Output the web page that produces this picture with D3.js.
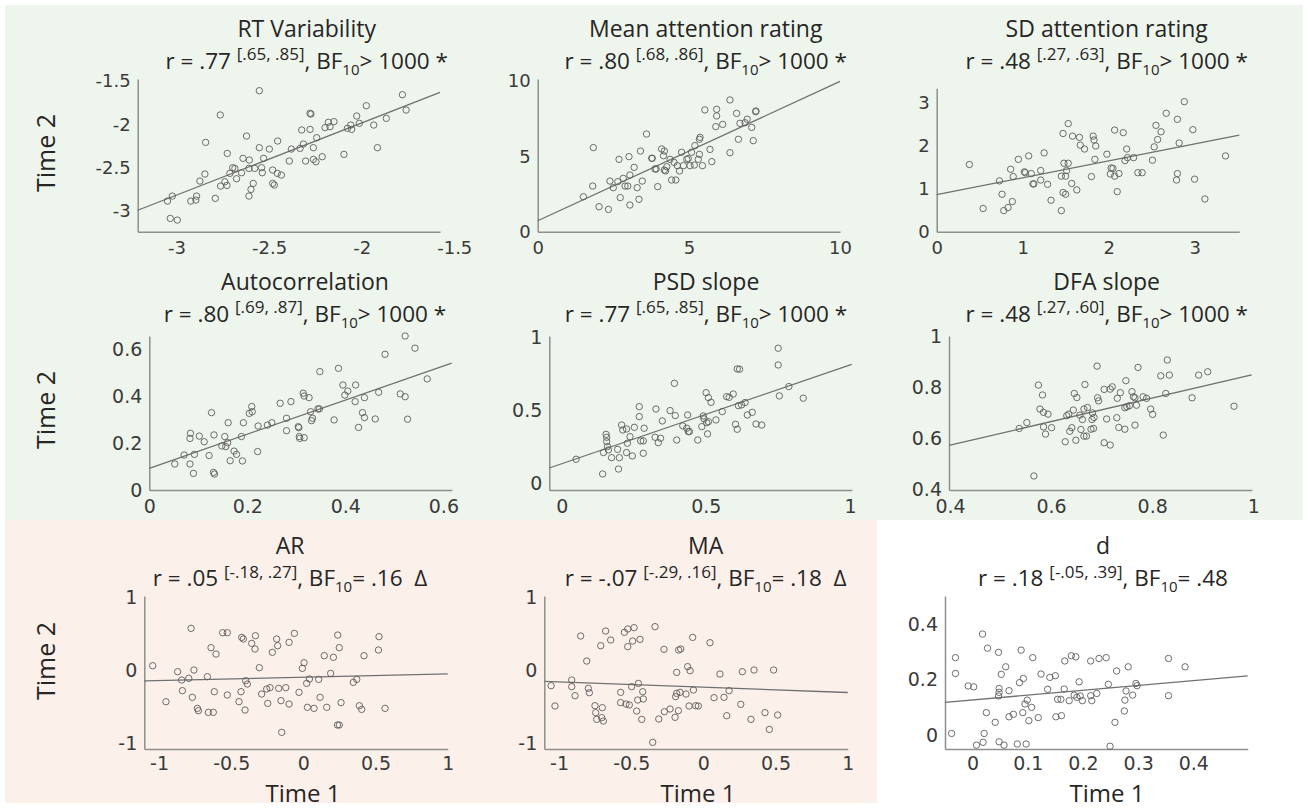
<!DOCTYPE html>
<html>
<head>
<meta charset="utf-8">
<script src="https://cdn.jsdelivr.net/npm/d3@7"></script>
<style>
  html, body { margin: 0; padding: 0; background: #ffffff; }
  svg { display: block; }
  text { white-space: pre; }
</style>
</head>
<body>
<svg id="fig" width="1308" height="808"></svg>
<script>
// ---- Test-retest data: Time 1 (x) and Time 2 (y) per measure ----
const rtVarT1 = [-3.049,-3.023,-3.034,-2.996,-2.923,-2.896,-2.892,-2.874,-2.847,-2.843,-2.791,-2.764,-2.762,-2.739,-2.728,-2.726,-2.712,-2.697,-2.685,-2.676,-2.649,-2.641,-2.622,-2.607,-2.609,-2.598,-2.586,-2.609,-2.578,-2.553,-2.553,-2.541,-2.537,-2.530,-2.499,-2.481,-2.481,-2.472,-2.454,-2.456,-2.434,-2.391,-2.380,-2.333,-2.324,-2.315,-2.303,-2.279,-2.274,-2.279,-2.261,-2.261,-2.247,-2.243,-2.213,-2.198,-2.180,-2.171,-2.150,-2.096,-2.077,-2.059,-2.054,-2.027,-2.013,-1.975,-1.935,-1.915,-1.867,-1.780,-1.760];
const rtVarT2 = [-2.885,-2.827,-3.085,-3.104,-2.885,-2.873,-2.827,-2.654,-2.573,-2.208,-2.854,-1.892,-2.712,-2.662,-2.704,-2.335,-2.565,-2.500,-2.508,-2.627,-2.558,-2.392,-2.135,-2.412,-2.827,-2.750,-2.681,-2.508,-2.508,-1.612,-2.269,-2.500,-2.558,-2.392,-2.285,-2.527,-2.681,-2.700,-2.192,-2.565,-2.585,-2.423,-2.285,-2.277,-2.065,-2.227,-2.423,-1.873,-1.881,-2.058,-2.269,-2.404,-2.431,-2.154,-2.373,-2.038,-1.977,-2.027,-1.969,-2.346,-2.046,-2.008,-2.058,-1.904,-1.988,-1.785,-2.008,-2.269,-1.931,-1.658,-1.835];

const meanAttT1 = [1.51,1.82,1.84,2.03,2.34,2.39,2.50,2.65,2.69,2.73,2.83,2.89,2.98,3.02,3.05,3.05,3.19,3.29,3.35,3.40,3.46,3.60,3.77,3.79,3.88,3.92,3.97,4.10,4.16,4.19,4.19,4.23,4.27,4.38,4.43,4.51,4.57,4.62,4.69,4.76,4.82,4.93,4.98,5.04,5.09,5.18,5.20,5.31,5.35,5.35,5.37,5.45,5.53,5.70,5.76,5.89,5.92,5.92,6.12,6.36,6.36,6.58,6.64,6.69,6.86,6.93,7.08,7.13,7.21,7.22];
const meanAttT2 = [2.32,3.03,5.58,1.66,1.48,3.36,2.92,3.32,4.80,2.26,3.54,3.03,3.03,4.98,1.77,3.76,4.27,2.92,2.15,5.35,3.36,6.48,4.87,4.87,4.16,4.16,2.99,5.49,5.04,5.35,4.09,4.03,4.31,4.80,3.43,4.60,3.43,4.38,4.03,5.27,4.38,4.80,4.85,4.38,5.27,4.42,5.71,4.80,5.13,6.13,6.26,4.38,8.08,5.46,4.65,6.97,8.12,7.68,7.12,8.74,5.24,7.85,6.13,7.19,7.23,7.46,6.92,6.04,7.96,8.01];

const sdAttT1 = [0.38,0.54,0.73,0.76,0.78,0.83,0.86,0.88,0.89,0.95,1.02,1.03,1.07,1.10,1.12,1.13,1.21,1.21,1.25,1.29,1.33,1.45,1.45,1.47,1.47,1.48,1.50,1.50,1.51,1.53,1.53,1.57,1.58,1.63,1.66,1.67,1.72,1.80,1.82,1.83,1.84,1.85,1.98,2.02,2.03,2.05,2.07,2.07,2.10,2.12,2.17,2.19,2.21,2.22,2.29,2.34,2.39,2.51,2.53,2.55,2.57,2.61,2.67,2.80,2.80,2.79,2.82,2.88,2.98,3.00,3.12,3.36];
const sdAttT2 = [1.56,0.54,1.18,0.87,0.49,0.56,1.45,0.70,1.28,1.68,1.39,1.37,1.76,1.35,1.11,1.11,1.42,1.20,1.83,1.10,0.73,1.29,0.49,2.28,0.91,1.59,1.29,0.87,1.42,1.59,2.51,1.12,2.22,0.97,2.19,2.01,1.92,1.28,2.22,2.13,1.68,1.99,1.80,1.34,1.48,1.47,2.36,1.29,0.93,1.35,2.30,1.65,1.92,1.72,1.72,1.37,1.37,1.66,1.97,2.47,2.14,2.32,2.75,2.61,1.35,1.20,2.06,3.02,2.37,1.22,0.76,1.76];

const acT1 = [0.052,0.071,0.083,0.084,0.083,0.090,0.092,0.102,0.112,0.122,0.127,0.131,0.133,0.132,0.148,0.154,0.156,0.160,0.161,0.165,0.173,0.178,0.188,0.190,0.192,0.204,0.209,0.210,0.221,0.222,0.241,0.250,0.267,0.280,0.280,0.289,0.304,0.305,0.306,0.307,0.316,0.314,0.316,0.326,0.329,0.331,0.333,0.344,0.347,0.348,0.377,0.386,0.395,0.399,0.405,0.421,0.420,0.427,0.435,0.439,0.439,0.461,0.468,0.481,0.512,0.522,0.522,0.527,0.542,0.567];
const acT2 = [0.111,0.149,0.220,0.242,0.111,0.071,0.152,0.230,0.206,0.147,0.330,0.075,0.068,0.235,0.188,0.228,0.185,0.202,0.287,0.125,0.166,0.152,0.228,0.124,0.287,0.327,0.356,0.334,0.164,0.273,0.277,0.287,0.370,0.306,0.253,0.377,0.270,0.266,0.228,0.220,0.223,0.413,0.401,0.394,0.334,0.296,0.306,0.346,0.346,0.505,0.299,0.519,0.448,0.405,0.422,0.448,0.377,0.267,0.330,0.309,0.394,0.303,0.417,0.579,0.410,0.398,0.657,0.302,0.605,0.474];

const psdT1 = [0.050,0.142,0.145,0.154,0.156,0.156,0.159,0.162,0.173,0.194,0.197,0.200,0.208,0.212,0.225,0.225,0.228,0.237,0.245,0.252,0.269,0.269,0.274,0.283,0.286,0.283,0.324,0.327,0.335,0.343,0.349,0.376,0.391,0.394,0.399,0.420,0.434,0.437,0.439,0.443,0.472,0.486,0.491,0.494,0.501,0.503,0.506,0.509,0.509,0.518,0.535,0.557,0.572,0.581,0.595,0.603,0.609,0.617,0.609,0.613,0.624,0.636,0.644,0.661,0.674,0.694,0.751,0.751,0.755,0.788,0.838];
const psdT2 = [0.165,0.064,0.211,0.336,0.316,0.286,0.252,0.229,0.176,0.233,0.098,0.176,0.400,0.366,0.211,0.373,0.275,0.320,0.188,0.384,0.526,0.458,0.291,0.291,0.378,0.206,0.316,0.510,0.279,0.309,0.428,0.499,0.686,0.465,0.297,0.394,0.378,0.469,0.355,0.355,0.297,0.389,0.462,0.442,0.622,0.416,0.339,0.588,0.423,0.556,0.435,0.492,0.595,0.590,0.613,0.405,0.785,0.783,0.371,0.533,0.538,0.554,0.469,0.487,0.407,0.400,0.927,0.812,0.600,0.664,0.584];

const dfaT1 = [0.537,0.552,0.566,0.575,0.578,0.583,0.585,0.585,0.589,0.594,0.601,0.628,0.631,0.635,0.637,0.641,0.644,0.646,0.651,0.649,0.657,0.659,0.662,0.665,0.665,0.667,0.670,0.672,0.679,0.681,0.682,0.684,0.685,0.691,0.692,0.694,0.705,0.705,0.710,0.717,0.717,0.721,0.730,0.731,0.734,0.737,0.746,0.746,0.748,0.750,0.755,0.760,0.763,0.766,0.766,0.769,0.772,0.782,0.789,0.797,0.801,0.817,0.822,0.827,0.830,0.834,0.879,0.892,0.910,0.962];
const dfaT2 = [0.638,0.661,0.452,0.808,0.714,0.769,0.701,0.644,0.616,0.694,0.641,0.586,0.688,0.694,0.627,0.641,0.710,0.775,0.759,0.592,0.690,0.634,0.673,0.608,0.714,0.810,0.608,0.720,0.635,0.673,0.699,0.638,0.681,0.882,0.758,0.746,0.582,0.791,0.675,0.573,0.792,0.801,0.680,0.756,0.642,0.778,0.635,0.719,0.825,0.723,0.727,0.782,0.762,0.651,0.758,0.729,0.877,0.762,0.756,0.714,0.693,0.844,0.612,0.775,0.906,0.847,0.758,0.847,0.860,0.725];

const arT1 = [-1.044,-0.952,-0.871,-0.843,-0.838,-0.794,-0.778,-0.769,-0.758,-0.734,-0.727,-0.665,-0.658,-0.640,-0.624,-0.617,-0.605,-0.559,-0.527,-0.527,-0.446,-0.432,-0.427,-0.416,-0.404,-0.400,-0.388,-0.358,-0.335,-0.332,-0.305,-0.289,-0.254,-0.247,-0.231,-0.215,-0.185,-0.178,-0.171,-0.155,-0.150,-0.122,-0.099,-0.099,-0.062,-0.030,-0.007,0.005,0.023,0.028,0.042,0.074,0.106,0.116,0.145,0.162,0.189,0.208,0.238,0.236,0.249,0.249,0.261,0.346,0.370,0.388,0.404,0.420,0.520,0.524,0.566];
const arT2 = [0.059,-0.434,-0.023,-0.137,-0.283,-0.114,0.571,-0.374,0.000,-0.525,-0.557,-0.091,-0.580,0.306,-0.580,-0.297,0.219,0.511,0.511,-0.342,-0.434,-0.297,0.447,0.425,-0.548,-0.146,-0.192,0.365,0.288,0.470,0.032,-0.329,-0.260,-0.457,-0.242,0.242,0.425,0.333,-0.251,-0.420,-0.854,-0.242,-0.466,0.379,0.502,-0.306,0.023,0.100,-0.183,-0.511,-0.123,-0.525,-0.128,-0.374,0.196,-0.511,-0.046,0.174,0.479,-0.753,-0.753,0.306,-0.447,-0.169,-0.128,-0.489,-0.539,0.196,0.274,0.457,-0.525];

const maT1 = [-1.055,-1.028,-0.912,-0.912,-0.889,-0.850,-0.808,-0.797,-0.790,-0.751,-0.746,-0.739,-0.711,-0.700,-0.704,-0.693,-0.677,-0.642,-0.573,-0.573,-0.547,-0.536,-0.524,-0.524,-0.513,-0.497,-0.490,-0.480,-0.462,-0.455,-0.450,-0.439,-0.427,-0.420,-0.416,-0.351,-0.335,-0.309,-0.273,-0.270,-0.231,-0.196,-0.192,-0.185,-0.185,-0.173,-0.171,-0.157,-0.162,-0.120,-0.109,-0.099,-0.092,-0.074,-0.069,-0.053,-0.035,0.046,0.074,0.115,0.143,0.162,0.178,0.259,0.270,0.330,0.351,0.427,0.457,0.487,0.515];
const maT2 = [-0.215,-0.493,-0.137,-0.228,-0.352,0.466,0.123,-0.251,-0.311,-0.489,-0.584,-0.676,0.333,-0.516,-0.653,-0.699,0.534,0.411,-0.306,-0.447,0.516,-0.466,0.320,0.562,-0.479,-0.228,0.397,0.580,-0.562,-0.411,-0.183,0.420,-0.676,-0.297,-0.397,-0.991,0.594,-0.671,0.283,-0.571,-0.534,-0.648,-0.365,-0.032,-0.320,-0.557,0.274,0.288,-0.306,-0.329,0.046,-0.493,-0.009,0.447,-0.274,-0.489,-0.493,0.374,-0.379,-0.055,-0.374,-0.626,-0.283,-0.470,-0.023,-0.676,0.000,-0.584,-0.813,0.000,-0.616];

const dT1 = [-0.038,-0.031,-0.031,-0.008,0.002,0.007,0.018,0.021,0.019,0.027,0.025,0.041,0.047,0.047,0.048,0.048,0.048,0.052,0.057,0.060,0.066,0.066,0.074,0.081,0.085,0.088,0.091,0.092,0.095,0.097,0.099,0.102,0.107,0.109,0.119,0.124,0.136,0.140,0.150,0.151,0.154,0.160,0.161,0.166,0.167,0.175,0.179,0.184,0.187,0.189,0.193,0.195,0.199,0.214,0.214,0.216,0.225,0.229,0.242,0.246,0.249,0.258,0.261,0.275,0.276,0.278,0.282,0.290,0.296,0.298,0.355,0.355,0.385];
const dT2 = [0.006,0.279,0.222,0.177,0.174,-0.036,0.364,0.006,-0.026,0.313,0.081,0.046,0.298,0.141,0.168,0.154,-0.024,0.219,-0.036,0.246,0.160,0.066,0.075,-0.032,0.189,0.306,0.081,0.204,0.112,-0.032,0.126,0.052,0.100,0.279,0.063,0.220,0.165,0.208,0.214,0.066,0.129,0.129,0.070,0.166,0.267,0.124,0.286,0.144,0.282,0.136,0.192,0.141,0.124,0.142,0.267,0.124,0.150,0.276,0.279,0.183,-0.040,0.046,0.231,0.087,0.126,0.159,0.246,0.144,0.186,0.178,0.276,0.142,0.246];

// ---- Panel titles and reported statistics ----
const measureNames = ["RT Variability", "Mean attention rating", "SD attention rating",
                      "Autocorrelation", "PSD slope", "DFA slope", "AR", "MA", "d"];
const rValues  = [0.77, 0.80, 0.48, 0.80, 0.77, 0.48, 0.05, -0.07, 0.18];
const rCIs     = ["[.65, .85]", "[.68, .86]", "[.27, .63]", "[.69, .87]", "[.65, .85]",
                  "[.27, .60]", "[-.18, .27]", "[-.29, .16]", "[-.05, .39]"];
const bfTexts  = ["> 1000 *", "> 1000 *", "> 1000 *", "> 1000 *", "> 1000 *",
                  "> 1000 *", "= .16  \u0394", "= .18  \u0394", "= .48"];

// ---- Tick values ----
const ticksRT    = [-3, -2.5, -2, -1.5];
const ticksMean  = [0, 5, 10];
const ticksSD    = [0, 1, 2, 3];
const ticksAC    = [0, 0.2, 0.4, 0.6];
const ticksPSD   = [0, 0.5, 1];
const ticksDFA   = [0.4, 0.6, 0.8, 1];
const ticksARx   = [-1, -0.5, 0, 0.5, 1];
const ticksARy   = [-1, 0, 1];
const ticksDx    = [0, 0.1, 0.2, 0.3, 0.4];
const ticksDy    = [0, 0.2, 0.4];

const axisLabelX = "Time 1";
const axisLabelY = "Time 2";

// ---- Layout: plot box [left, right, top, bottom], axis limits, title placement ----
const rowTitleY = [[37, 68.5], [290, 321.5], [554, 586]];
const panels = [
  { t1: rtVarT1,   t2: rtVarT2,   box: [137.7, 440, 79, 231.7],      xd: [-3.21, -1.577],  yd: [-3.238, -1.477], xt: ticksRT,  yt: ticksRT,  cx: 306.7,  row: 0, fs: 18, pad: 10 },
  { t1: meanAttT1, t2: meanAttT2, box: [537.7, 840, 79, 231.7],      xd: [0, 10],          yd: [0, 10.13],       xt: ticksMean, yt: ticksMean, cx: 705.7, row: 0, fs: 18, pad: 10 },
  { t1: sdAttT1,   t2: sdAttT2,   box: [936.7, 1239.3, 88.3, 231.7], xd: [0, 3.52],        yd: [0, 3.33],        xt: ticksSD,  yt: ticksSD,  cx: 1106.7, row: 0, fs: 18, pad: 10 },
  { t1: acT1,      t2: acT2,      box: [149.3, 451.7, 336, 490],     xd: [0, 0.617],       yd: [0, 0.657],       xt: ticksAC,  yt: ticksAC,  cx: 305,    row: 1, fs: 19, pad: 10 },
  { t1: psdT1,     t2: psdT2,     box: [549.3, 851.7, 336, 490],     xd: [-0.043, 1.006],  yd: [-0.046, 1.011],  xt: ticksPSD, yt: ticksPSD, cx: 706,    row: 1, fs: 19, pad: 10 },
  { t1: dfaT1,     t2: dfaT2,     box: [949, 1251.7, 336, 490],      xd: [0.398, 0.997],   yd: [0.397, 1.0],     xt: ticksDFA, yt: ticksDFA, cx: 1106.7, row: 1, fs: 19, pad: 10 },
  { t1: arT1,      t2: arT2,      box: [144.3, 447.7, 596, 749],     xd: [-1.102, 1.0],    yd: [-1.082, 1.014],  xt: ticksARx, yt: ticksARy, cx: 290,    row: 2, fs: 19, pad: 8 },
  { t1: maT1,      t2: maT2,      box: [544.3, 847.7, 596, 749],     xd: [-1.102, 1.0],    yd: [-1.082, 1.014],  xt: ticksARx, yt: ticksARy, cx: 705.7,  row: 2, fs: 19, pad: 8 },
  { t1: dT1,       t2: dT2,       box: [945, 1247.7, 596, 749],      xd: [-0.050, 0.4985], yd: [-0.050, 0.501],  xt: ticksDx,  yt: ticksDy,  cx: 1103,   row: 2, fs: 19, pad: 8 }
];

const titleFont = "'Open Sans', 'Noto Sans', sans-serif";
const tickFont  = "'DejaVu Sans', Verdana, sans-serif";
const textColor = "#262626";
const tickColor = "#3a3a3a";
const axisColor = "#8e8e8e";
const markColor = "#5e5e5e";
const fitColor  = "#707070";

const svg = d3.select("#fig");

// Background bands: reliable measures (green), unreliable (pink)
svg.append("rect").attr("x", 5).attr("y", 5).attr("width", 1298).attr("height", 515).attr("fill", "#eef5ec");
svg.append("rect").attr("x", 5).attr("y", 520).attr("width", 872).attr("height", 283).attr("fill", "#fcf0ea");

const fmtTick = v => String(v);
const fmtR = v => (v < 0 ? "-" : "") + Math.abs(v).toFixed(2).replace(/^0/, "");

panels.forEach((p, i) => {
  const [left, right, top, bottom] = p.box;
  const x = d3.scaleLinear().domain(p.xd).range([left, right]);
  const y = d3.scaleLinear().domain(p.yd).range([bottom, top]);
  const g = svg.append("g").attr("class", "panel");

  // axes: plain gray spines, no tick marks
  const gx = g.append("g")
    .attr("transform", `translate(0,${bottom})`)
    .call(d3.axisBottom(x).tickValues(p.xt).tickFormat(fmtTick).tickSize(0).tickSizeOuter(0).tickPadding(p.pad));
  const gy = g.append("g")
    .attr("transform", `translate(${left},0)`)
    .call(d3.axisLeft(y).tickValues(p.yt).tickFormat(fmtTick).tickSize(0).tickSizeOuter(0).tickPadding(7));
  [gx, gy].forEach(ax => {
    ax.select(".domain").attr("stroke", axisColor).attr("stroke-width", 1.5);
    ax.selectAll("text").attr("fill", tickColor).attr("font-family", tickFont).attr("font-size", p.fs);
  });

  const pts = d3.zip(p.t1, p.t2);

  // fitted line through the means, slope from the reported correlation
  const mx = d3.mean(p.t1), my = d3.mean(p.t2);
  const slope = rValues[i] * d3.deviation(p.t2) / d3.deviation(p.t1);
  const icpt = my - slope * mx;
  const fitLine = d3.line().x(d => x(d)).y(d => y(icpt + slope * d));
  g.append("path")
    .datum(p.xd)
    .attr("d", fitLine)
    .attr("fill", "none")
    .attr("stroke", fitColor)
    .attr("stroke-width", 1.3);

  // open circle markers
  g.append("g").selectAll("circle")
    .data(pts)
    .join("circle")
    .attr("cx", d => x(d[0]))
    .attr("cy", d => y(d[1]))
    .attr("r", 3.2)
    .attr("fill", "none")
    .attr("stroke", markColor)
    .attr("stroke-width", 0.9);

  // two-line title: measure name, then r [CI], BF10
  const [ty1, ty2] = rowTitleY[p.row];
  g.append("text")
    .attr("x", p.cx).attr("y", ty1)
    .attr("text-anchor", "middle")
    .attr("font-family", titleFont).attr("font-size", 23)
    .attr("fill", textColor)
    .text(measureNames[i]);

  const t = g.append("text")
    .attr("x", p.cx).attr("y", ty2)
    .attr("text-anchor", "middle")
    .attr("font-family", titleFont).attr("font-size", 22.5)
    .attr("fill", textColor);
  t.append("tspan").text(`r = ${fmtR(rValues[i])} `);
  t.append("tspan").attr("font-size", 17).attr("dy", -8.5).text(rCIs[i]);
  t.append("tspan").attr("dy", 8.5).text(", BF");
  t.append("tspan").attr("font-size", 15).attr("dy", 6).text("10");
  t.append("tspan").attr("dy", -6).text(bfTexts[i]);
});

// shared axis labels
const yLabelRows = [153, 410, 661];
yLabelRows.forEach(cy => {
  svg.append("text")
    .attr("transform", `translate(55,${cy}) rotate(-90)`)
    .attr("text-anchor", "middle")
    .attr("font-family", titleFont).attr("font-size", 25)
    .attr("fill", textColor)
    .text(axisLabelY);
});
const xLabelCols = [303, 698, 1107];
xLabelCols.forEach(cx => {
  svg.append("text")
    .attr("x", cx).attr("y", 802)
    .attr("text-anchor", "middle")
    .attr("font-family", titleFont).attr("font-size", 24)
    .attr("fill", textColor)
    .text(axisLabelX);
});
</script>
</body>
</html>
